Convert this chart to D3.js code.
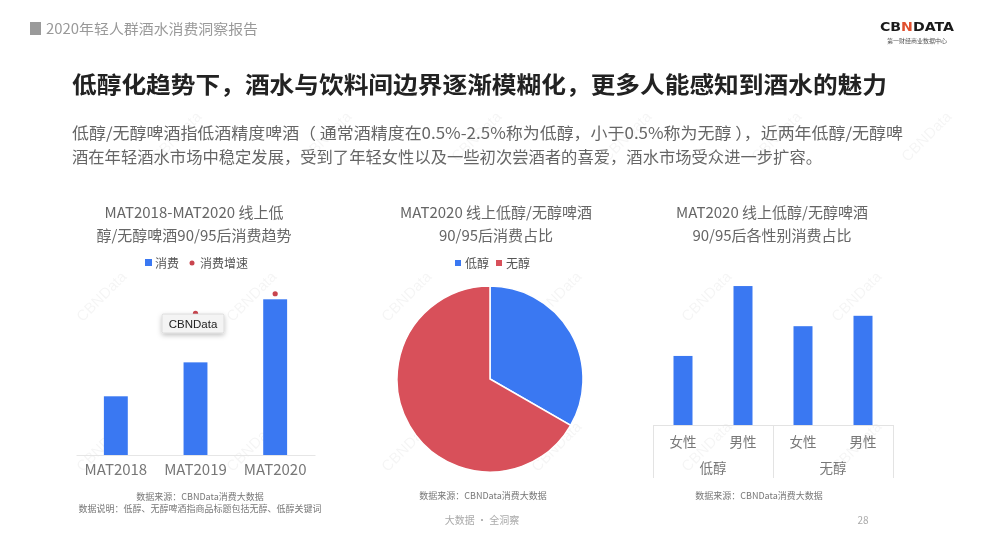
<!DOCTYPE html>
<html><head><meta charset="utf-8">
<script src="https://cdn.jsdelivr.net/npm/d3@7"></script>
<style>
html,body{margin:0;padding:0;background:#fff;}
svg{display:block;font-family:"Noto Sans CJK SC","Noto Sans",sans-serif;}
</style></head>
<body>
<svg id="c" width="985" height="554"></svg>
<script>
// ---------- data ----------
const trendCategories = ["MAT2018", "MAT2019", "MAT2020"];
const trendConsumption = [37.7, 59.5, 100];      // index
const trendGrowth = [null, 0.58, 0.66];          // growth rate
const pieCategories = ["低醇", "无醇"];
const pieShare = [33.3, 66.7];
const genderGroups = ["低醇", "无醇"];
const genders = ["女性", "男性"];
const genderShareLow = [33.2, 66.8];
const genderShareNon = [47.5, 52.5];

const BLUE = "#3a78f2", RED = "#d8505a", DOT = "#c9454e";
const svg = d3.select("#c");

// watermarks
const wm = svg.append("g").attr("fill", "#000").attr("opacity", 0.04)
  .attr("font-size", 15).attr("font-family", "Liberation Sans, sans-serif");
[[105,300],[255,300],[410,300],[560,300],[710,300],[860,300],
 [105,450],[255,450],[410,450],[560,450],[710,450],[860,450],
 [180,140],[330,140],[480,140],[630,140],[780,140],[930,140]].forEach(([x,y]) => {
  wm.append("text").attr("transform", `translate(${x},${y}) rotate(-45)`)
    .attr("text-anchor", "middle").text("CBNData");
});

// header
svg.append("rect").attr("x", 30).attr("y", 22).attr("width", 11).attr("height", 13).attr("fill", "#9a9a9a");
svg.append("text").attr("x", 46).attr("y", 34).attr("font-size", 14).attr("fill", "#999")
  .attr("textLength", 212).attr("lengthAdjust", "spacingAndGlyphs").text("2020年轻人群酒水消费洞察报告");
const logo = svg.append("text").attr("x", 917).attr("y", 31).attr("text-anchor", "middle")
  .attr("font-size", 13).attr("font-weight", "bold").attr("font-family", "DejaVu Sans, sans-serif")
  .attr("fill", "#1a1a1a").attr("textLength", 74).attr("lengthAdjust", "spacingAndGlyphs");
logo.append("tspan").text("CB");
logo.append("tspan").attr("fill", "#e0502e").text("N");
logo.append("tspan").text("DATA");
svg.append("text").attr("x", 917).attr("y", 43).attr("text-anchor", "middle")
  .attr("font-size", 6).attr("fill", "#555").text("第一财经商业数据中心");

// main title & paragraph
svg.append("text").attr("x", 72).attr("y", 93).attr("font-size", 23).attr("font-weight", "bold")
  .attr("fill", "#222").attr("textLength", 815).attr("lengthAdjust", "spacingAndGlyphs")
  .text("低醇化趋势下，酒水与饮料间边界逐渐模糊化，更多人能感知到酒水的魅力");
svg.append("text").attr("x", 72).attr("y", 139).attr("font-size", 16).attr("fill", "#666")
  .attr("textLength", 831).attr("lengthAdjust", "spacingAndGlyphs")
  .text("低醇/无醇啤酒指低酒精度啤酒（ 通常酒精度在0.5%-2.5%称为低醇，小于0.5%称为无醇 ），近两年低醇/无醇啤");
svg.append("text").attr("x", 72).attr("y", 163).attr("font-size", 16).attr("fill", "#666")
  .attr("textLength", 750).attr("lengthAdjust", "spacingAndGlyphs")
  .text("酒在年轻酒水市场中稳定发展，受到了年轻女性以及一些初次尝酒者的喜爱，酒水市场受众进一步扩容。");

function titleLines(cx, lines) {
  lines.forEach((t, i) => svg.append("text").attr("x", cx).attr("y", 218 + i * 23)
    .attr("text-anchor", "middle").attr("font-size", 15).attr("fill", "#666").text(t));
}
function footnote(cx, y, t) {
  svg.append("text").attr("x", cx).attr("y", y).attr("text-anchor", "middle")
    .attr("font-size", 9).attr("fill", "#777").text(t);
}

// ---------- chart 1 ----------
titleLines(194, ["MAT2018-MAT2020 线上低", "醇/无醇啤酒90/95后消费趋势"]);
// legend
svg.append("rect").attr("x", 145).attr("y", 259).attr("width", 7).attr("height", 7).attr("fill", BLUE);
svg.append("text").attr("x", 155).attr("y", 268).attr("font-size", 12).attr("fill", "#555").text("消费");
svg.append("circle").attr("cx", 192).attr("cy", 263).attr("r", 2.5).attr("fill", DOT);
svg.append("text").attr("x", 200).attr("y", 268).attr("font-size", 12).attr("fill", "#555").text("消费增速");

const x1 = d3.scaleBand().domain(trendCategories).range([76, 315]).paddingInner(0.7).paddingOuter(0.35);
const y1 = d3.scaleLinear().domain([0, 100]).range([455, 299.3]);
const y1g = d3.scaleLinear().domain([0, 1]).range([455, 210.7]);
const g1 = svg.append("g");
g1.selectAll("rect.bar").data(trendConsumption).join("rect").attr("class", "bar")
  .attr("x", (d, i) => x1(trendCategories[i])).attr("width", x1.bandwidth())
  .attr("y", d => y1(d)).attr("height", d => y1(0) - y1(d)).attr("fill", BLUE);
g1.selectAll("circle.dot").data(trendGrowth.map((v, i) => ({v, c: trendCategories[i]})).filter(d => d.v != null))
  .join("circle").attr("class", "dot")
  .attr("cx", d => x1(d.c) + x1.bandwidth() / 2).attr("cy", d => y1g(d.v)).attr("r", 2.6).attr("fill", DOT);
const ax1 = g1.append("g").attr("transform", "translate(0,455)")
  .call(d3.axisBottom(x1).tickSize(0).tickPadding(9));
ax1.select(".domain").attr("stroke", "#e6e6e6");
ax1.selectAll("text").attr("font-size", 15).attr("fill", "#777")
  .attr("font-family", "Noto Sans CJK SC, sans-serif");

// tooltip artifact
const tip = svg.append("g");
const defs = svg.append("defs");
const f = defs.append("filter").attr("id", "sh").attr("x", "-30%").attr("y", "-50%").attr("width", "160%").attr("height", "220%");
f.append("feDropShadow").attr("dx", 0).attr("dy", 2).attr("stdDeviation", 2.5).attr("flood-color", "#000").attr("flood-opacity", 0.25);
tip.append("rect").attr("x", 162).attr("y", 314).attr("width", 62).attr("height", 19).attr("rx", 1.5)
  .attr("fill", "#f4f4f4").attr("stroke", "#cfcfcf").attr("stroke-width", 0.6).attr("filter", "url(#sh)");
tip.append("text").attr("x", 193).attr("y", 328).attr("text-anchor", "middle").attr("font-size", 11.5)
  .attr("fill", "#222").attr("font-family", "Liberation Sans, sans-serif").text("CBNData");

footnote(200, 500, "数据来源：CBNData消费大数据");
footnote(200, 512, "数据说明：低醇、无醇啤酒指商品标题包括无醇、低醇关键词");

// ---------- chart 2 (pie) ----------
titleLines(496, ["MAT2020 线上低醇/无醇啤酒", "90/95后消费占比"]);
const pieColor = d3.scaleOrdinal().domain(pieCategories).range([BLUE, RED]);
pieCategories.forEach((c, i) => {
  const lx = [455, 496][i];
  svg.append("rect").attr("x", lx).attr("y", 260).attr("width", 6).attr("height", 6).attr("fill", pieColor(c));
  svg.append("text").attr("x", lx + 10).attr("y", 268).attr("font-size", 12).attr("fill", "#555").text(c);
});
const pie = d3.pie().sort(null).value(d => d.v);
const arc = d3.arc().innerRadius(0).outerRadius(93);
svg.append("g").attr("transform", "translate(490,379)")
  .selectAll("path").data(pie(pieCategories.map((c, i) => ({c, v: pieShare[i]})))).join("path")
  .attr("d", arc).attr("fill", d => pieColor(d.data.c)).attr("stroke", "#fff").attr("stroke-width", 1.5);
footnote(483, 499, "数据来源：CBNData消费大数据");

// ---------- chart 3 ----------
titleLines(772, ["MAT2020 线上低醇/无醇啤酒", "90/95后各性别消费占比"]);
const x3 = d3.scaleBand().domain(genderGroups).range([653, 893]);
const x3i = d3.scalePoint().domain(genders).range([0, x3.bandwidth()]).padding(0.5);
const y3 = d3.scaleLinear().domain([0, 100]).range([425, 217]);
const groupData = [genderShareLow, genderShareNon];
const g3 = svg.append("g");
genderGroups.forEach((grp, gi) => {
  genders.forEach((gen, j) => {
    const v = groupData[gi][j];
    const cx = x3(grp) + x3i(gen);
    g3.append("rect").attr("x", cx - 9.5).attr("width", 19)
      .attr("y", y3(v)).attr("height", y3(0) - y3(v)).attr("fill", BLUE);
    g3.append("text").attr("x", cx).attr("y", 447).attr("text-anchor", "middle")
      .attr("font-size", 13.5).attr("fill", "#777").text(gen);
  });
  g3.append("text").attr("x", x3(grp) + x3.bandwidth() / 2).attr("y", 473).attr("text-anchor", "middle")
    .attr("font-size", 13.5).attr("fill", "#777").text(grp);
});
const gridC = "#e3e3e3";
g3.append("line").attr("x1", 653).attr("x2", 893).attr("y1", 425.5).attr("y2", 425.5).attr("stroke", gridC);
[653, 773, 893].forEach(xx => g3.append("line").attr("x1", xx + 0.5).attr("x2", xx + 0.5)
  .attr("y1", 425).attr("y2", 478).attr("stroke", gridC));
footnote(759, 499, "数据来源：CBNData消费大数据");

// footer
svg.append("text").attr("x", 482).attr("y", 524).attr("text-anchor", "middle").attr("font-size", 10)
  .attr("fill", "#aaa").text("大数据 · 全洞察");
svg.append("text").attr("x", 863).attr("y", 524).attr("text-anchor", "middle").attr("font-size", 10)
  .attr("fill", "#aaa").text("28");
</script>
</body></html>
